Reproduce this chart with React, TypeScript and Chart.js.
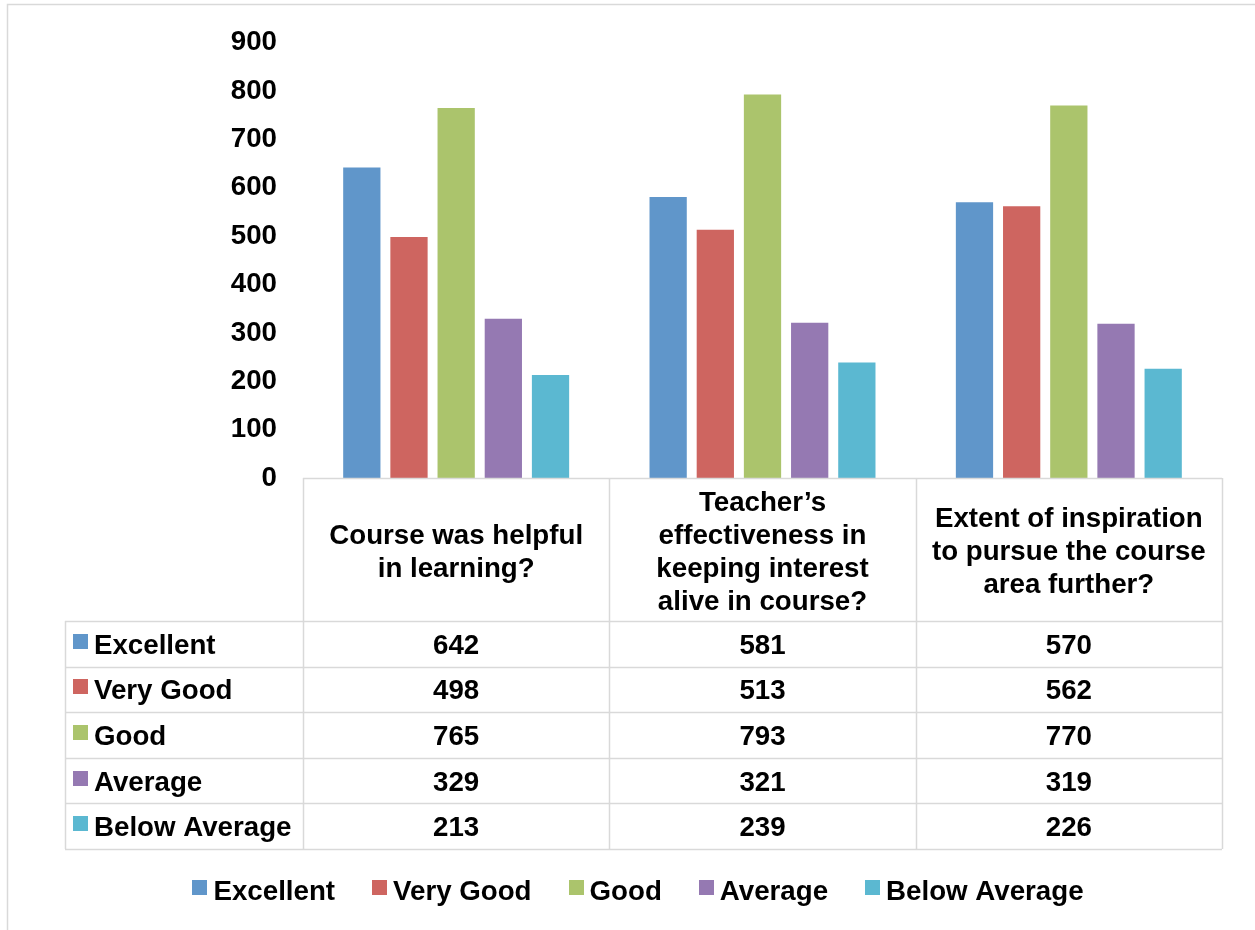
import { useEffect, useRef } from "react";
import { Chart, registerables } from "chart.js";

Chart.register(...registerables);

const categories: string[][] = [
  ["Course was helpful", "in learning?"],
  ["Teacher’s", "effectiveness in", "keeping interest", "alive in course?"],
  ["Extent of inspiration", "to pursue the course", "area further?"],
];
const seriesNames = ["Excellent", "Very Good", "Good", "Average", "Below Average"];
const excellent = [642, 581, 570];
const veryGood = [498, 513, 562];
const good = [765, 793, 770];
const average = [329, 321, 319];
const belowAverage = [213, 239, 226];
const seriesColors = ["#6096CA", "#CE6560", "#ABC46C", "#9579B2", "#5BB8D1"];
const yMin = 0;
const yMax = 900;
const yStep = 100;

const FONT = "'Liberation Sans', Arial, Helvetica, sans-serif";
const FS = 27.7;
const GRID = "#d9d9d9";

const tablePlugin = {
  id: "dataTableLegend",
  afterDraw(chart: any) {
    const { ctx, chartArea, scales } = chart;
    const xs = scales.x;
    const n = categories.length;
    const colW = (chartArea.right - chartArea.left) / n;
    const top = chartArea.bottom;
    const headerH = 143;
    const rowH = 45.6;
    const labelLeft = 65;
    const datasets = chart.data.datasets;
    const nRows = datasets.length;
    const bottom = top + headerH + rowH * nRows;
    const edges: number[] = [];
    for (let i = 0; i < n; i++) edges.push(xs.getPixelForValue(i) - colW / 2);
    edges.push(xs.getPixelForValue(n - 1) + colW / 2);
    const px = (v: number) => Math.round(v) + 0.5;

    ctx.save();
    ctx.strokeStyle = GRID;
    ctx.lineWidth = 1.5;
    ctx.strokeRect(7.5, 4.5, 1400, 1100);

    ctx.beginPath();
    ctx.moveTo(edges[0], px(top));
    ctx.lineTo(edges[n], px(top));
    for (let i = 0; i <= n; i++) {
      ctx.moveTo(px(edges[i]), top);
      ctx.lineTo(px(edges[i]), bottom);
    }
    ctx.moveTo(px(labelLeft), top + headerH);
    ctx.lineTo(px(labelLeft), bottom);
    for (let r = 0; r <= nRows; r++) {
      const y = px(top + headerH + rowH * r);
      ctx.moveTo(labelLeft, y);
      ctx.lineTo(edges[n], y);
    }
    ctx.stroke();

    ctx.fillStyle = "#000";
    ctx.font = `bold ${FS}px ${FONT}`;
    ctx.textBaseline = "alphabetic";
    const capOff = FS * 0.358;

    const lineH = 33;
    const hc = top + headerH / 2 + 1;
    ctx.textAlign = "center";
    categories.forEach((lines, i) => {
      const cx = xs.getPixelForValue(i);
      const start = hc - ((lines.length - 1) * lineH) / 2;
      lines.forEach((ln, j) => {
        ctx.fillText(ln, cx, start + j * lineH + capOff);
      });
    });

    datasets.forEach((ds: any, r: number) => {
      const cy = top + headerH + rowH * r + rowH / 2;
      ctx.fillStyle = ds.backgroundColor;
      ctx.fillRect(73, Math.round(cy - 10), 15, 15);
      ctx.fillStyle = "#000";
      ctx.textAlign = "left";
      ctx.fillText(ds.label, 94, cy + capOff);
      ctx.textAlign = "center";
      ds.data.forEach((v: number, i: number) => {
        ctx.fillText(String(v), xs.getPixelForValue(i), cy + capOff);
      });
    });

    const legY = 890;
    const box = 15;
    const boxGap = 6;
    const itemGap = 37;
    const widths = datasets.map((ds: any) => ctx.measureText(ds.label).width);
    const total =
      widths.reduce((a: number, b: number) => a + b, 0) +
      datasets.length * (box + boxGap) +
      (datasets.length - 1) * itemGap;
    let lx = 638 - total / 2;
    ctx.textAlign = "left";
    datasets.forEach((ds: any, i: number) => {
      ctx.fillStyle = ds.backgroundColor;
      ctx.fillRect(Math.round(lx), legY - 10, box, box);
      ctx.fillStyle = "#000";
      ctx.fillText(ds.label, lx + box + boxGap, legY + capOff);
      lx += box + boxGap + widths[i] + itemGap;
    });
    ctx.restore();
  },
};

export default function App() {
  const ref = useRef<HTMLCanvasElement | null>(null);
  useEffect(() => {
    document.body.style.margin = "0";
    document.body.style.overflow = "hidden";
    if (!ref.current) return;
    const values = [excellent, veryGood, good, average, belowAverage];
    const chart = new Chart(ref.current, {
      type: "bar",
      data: {
        labels: categories.map((c) => c.join(" ")),
        datasets: seriesNames.map((name, i) => ({
          label: name,
          data: values[i],
          backgroundColor: seriesColors[i],
          borderWidth: 0,
          categoryPercentage: 0.77,
          barPercentage: 0.79,
        })),
      },
      options: {
        animation: false,
        responsive: false,
        maintainAspectRatio: false,
        layout: { padding: { left: 0, right: 33, top: 39, bottom: 452 } },
        plugins: {
          legend: { display: false },
          tooltip: { enabled: false },
        },
        scales: {
          x: { display: false },
          y: {
            min: yMin,
            max: yMax,
            border: { display: false },
            grid: { display: false, drawTicks: false },
            ticks: {
              stepSize: yStep,
              padding: 26,
              color: "#000",
              font: { family: FONT, size: FS, weight: "bold" },
            },
            afterFit: (scale: any) => {
              scale.width = 303;
            },
          },
        },
      },
      plugins: [tablePlugin],
    });
    return () => chart.destroy();
  }, []);
  return <canvas ref={ref} width={1255} height={930} style={{ display: "block" }} />;
}
